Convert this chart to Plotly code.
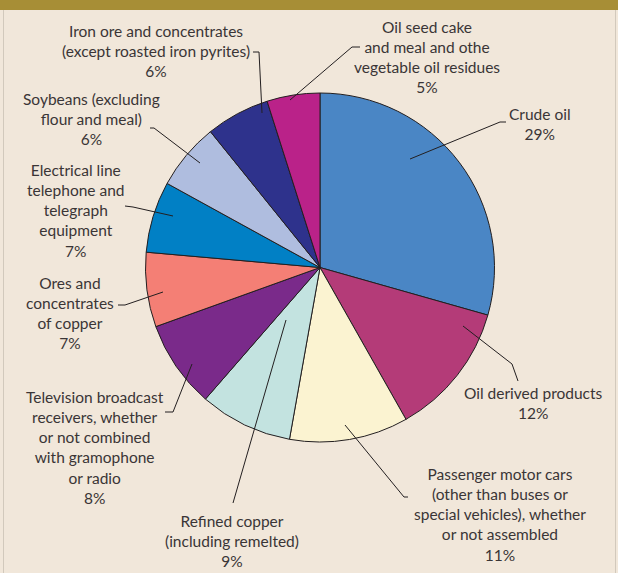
import plotly.graph_objects as go

W, H = 618, 573

# ---- data (clockwise from 12 o'clock) ----
categories = [
    "Crude oil",
    "Oil derived products",
    "Passenger motor cars (other than buses or special vehicles), whether or not assembled",
    "Refined copper (including remelted)",
    "Television broadcast receivers, whether or not combined with gramophone or radio",
    "Ores and concentrates of copper",
    "Electrical line telephone and telegraph equipment",
    "Soybeans (excluding flour and meal)",
    "Iron ore and concentrates (except roasted iron pyrites)",
    "Oil seed cake and meal and othe vegetable oil residues",
]
shares = [29.4, 12.4, 11.0, 8.6, 8.1, 6.9, 6.6, 6.2, 5.9, 4.9]
pct_labels = ["29%", "12%", "11%", "9%", "8%", "7%", "7%", "6%", "6%", "5%"]
label_lines = [
    ["Crude oil"],
    ["Oil derived products"],
    ["Passenger motor cars", "(other than buses or", "special vehicles), whether", "or not assembled"],
    ["Refined copper", "(including remelted)"],
    ["Television broadcast", "receivers, whether", "or not combined", "with gramophone", "or radio"],
    ["Ores and", "concentrates", "of copper"],
    ["Electrical line", "telephone and", "telegraph", "equipment"],
    ["Soybeans (excluding", "flour and meal)"],
    ["Iron ore and concentrates", "(except roasted iron pyrites)"],
    ["Oil seed cake", "and meal and othe", "vegetable oil residues"],
]
colors = ["#4A86C5", "#B43B78", "#FBF3D1", "#C3E3E0", "#7A2A8A",
          "#F47F75", "#0180C5", "#AFBDDF", "#2E328C", "#BA2289"]

# ---- layout positions (pixels) ----
cx, cy, r = 320, 267.5, 174.5
label_pos = [(540, 124), (533, 403), (500, 514.5), (232, 541), (95, 447.5),
             (70, 313), (76, 210), (91, 119), (156, 51), (427, 56.5)]
leaders = [
    [(506, 122), (500, 122), (410, 159)],
    [(463, 326), (512, 364), (518, 381)],
    [(408, 497), (404, 497), (345, 425)],
    [(233, 503), (286, 320)],
    [(165, 412), (173, 412), (192, 364)],
    [(118, 305), (125, 305), (163, 292)],
    [(125, 206), (133, 207), (173, 216)],
    [(150, 128), (154, 128), (200, 163)],
    [(253, 52), (259, 52), (262, 113)],
    [(360, 47), (352, 47), (290, 100)],
]

def px(x):
    return x / W

def py(y):
    return 1 - y / H

fig = go.Figure(go.Pie(
    labels=categories,
    values=shares,
    sort=False,
    direction="clockwise",
    rotation=0,
    textinfo="none",
    hoverinfo="label+percent",
    marker=dict(colors=colors, line=dict(color="#231F20", width=1)),
    domain=dict(x=[px(cx - r), px(cx + r)], y=[py(cy + r), py(cy - r)]),
    showlegend=False,
))

shapes = [
    dict(type="rect", xref="paper", yref="paper", x0=0, x1=1, y0=py(10), y1=1,
         fillcolor="#A78E36", line=dict(width=0), layer="above"),
    dict(type="line", xref="paper", yref="paper", x0=px(3.5), x1=px(3.5), y0=0, y1=py(10),
         line=dict(color="#D2C9BC", width=1)),
    dict(type="line", xref="paper", yref="paper", x0=px(615.5), x1=px(615.5), y0=0, y1=py(10),
         line=dict(color="#D2C9BC", width=1)),
]
for pts in leaders:
    path = "M " + " L ".join(f"{px(x)},{py(y)}" for x, y in pts)
    shapes.append(dict(type="path", xref="paper", yref="paper", path=path,
                       line=dict(color="#231F20", width=1), layer="above"))

annotations = []
for lines, pct, (x, y) in zip(label_lines, pct_labels, label_pos):
    annotations.append(dict(
        x=px(x), y=py(y), xref="paper", yref="paper",
        text="<br>".join(lines + [pct]), showarrow=False,
        xanchor="center", yanchor="middle", align="center",
        font=dict(family="Lato", size=15.5, color="#3A3536"),
    ))

fig.update_layout(
    width=W, height=H,
    margin=dict(l=0, r=0, t=0, b=0),
    paper_bgcolor="#F1E7DA",
    plot_bgcolor="#F1E7DA",
    shapes=shapes,
    annotations=annotations,
)

fig.write_html(
    "out.html",
    config={"displayModeBar": False},
    post_script="document.body.style.margin='0';document.body.style.overflow='hidden';",
)
